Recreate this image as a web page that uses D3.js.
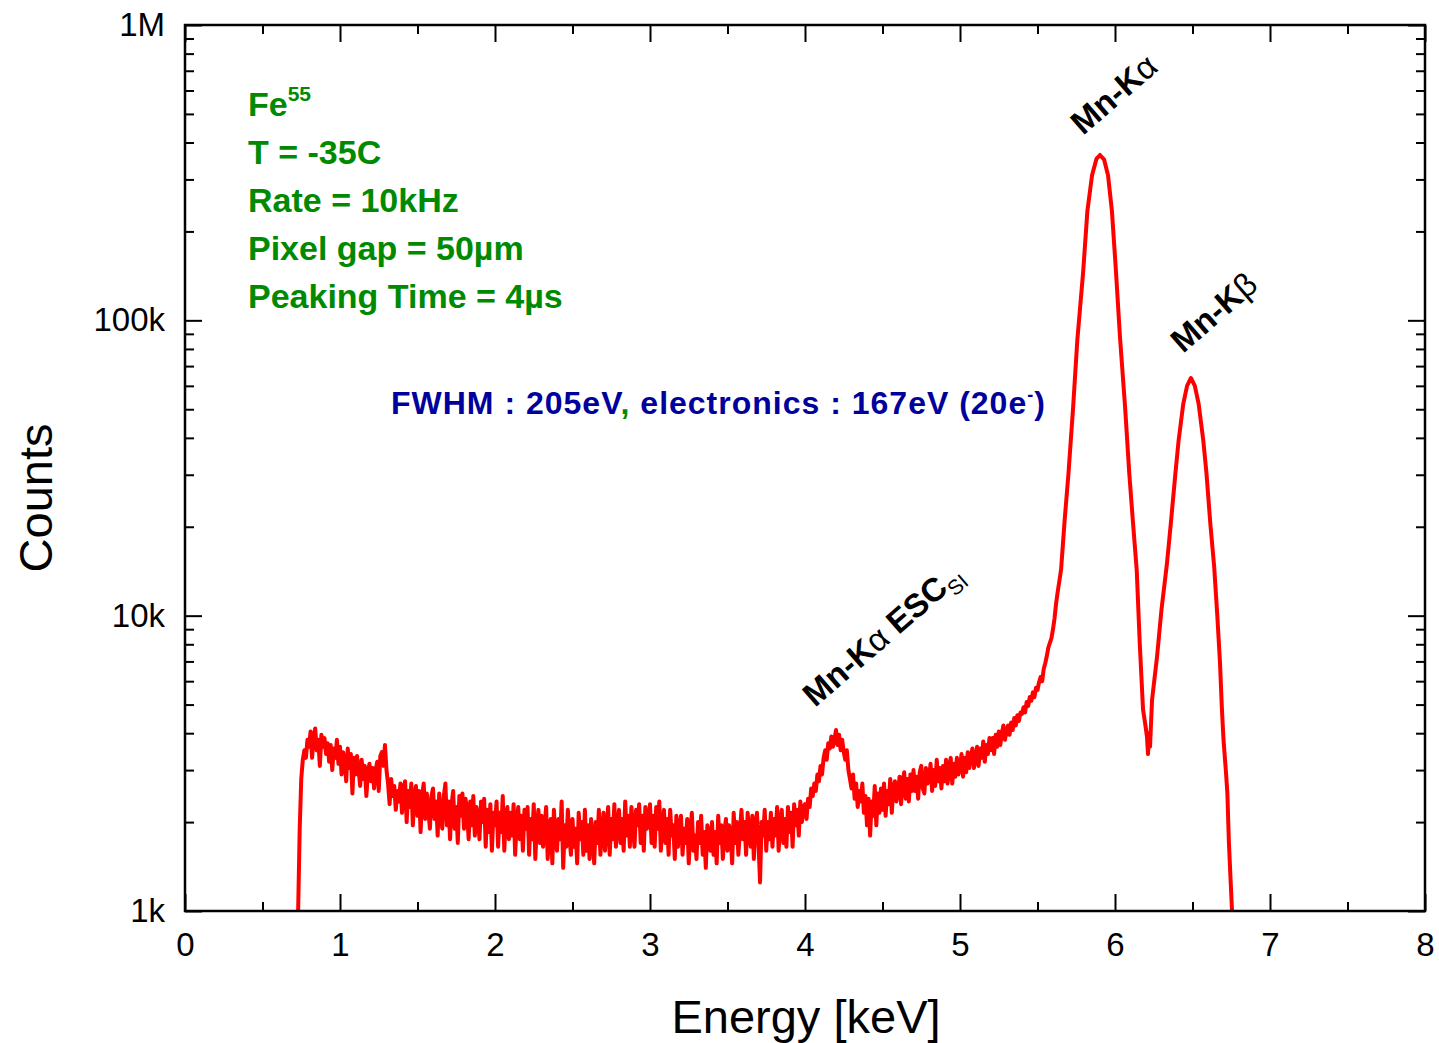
<!DOCTYPE html>
<html>
<head>
<meta charset="utf-8">
<script src="https://cdn.jsdelivr.net/npm/d3@7"></script>
<style>
  body { margin: 0; background: #fff; }
  svg { display: block; font-family: "Liberation Sans", Arial, sans-serif; }
</style>
</head>
<body>
<div id="chart"></div>
<script>
// background part of the spectrum, one channel every 10 eV starting at 0.73 keV
const bgStart = 0.73;
const bgStep = 0.01;
const bgCounts = [
  1000, 1900, 2800, 3250, 3500, 3300, 3800,
  3600, 4050, 3300, 3900, 4150, 3500, 3800, 3100, 3950, 3600,
  3850, 3400, 3700, 3200, 3650, 3000, 3550, 3300, 3800, 3150,
  3600, 2900, 3450, 3200, 2750, 3550, 3050, 3400, 2500, 3300,
  2900, 3350, 3000, 2650, 3250, 2800, 3100, 2450, 2950, 3150,
  2750, 3050, 2600, 3000, 3200, 2550, 3350, 3450, 3100, 3650,
  3000, 2700, 2300, 2800, 2450, 2650, 2200, 2550, 2350, 2700,
  2150, 2600, 2750, 2000, 2550, 2250, 2700, 1950, 2450, 2650,
  2100, 2550, 1850, 2450, 2700, 2050, 2500, 2200, 1900, 2450,
  2600, 2050, 2350, 1800, 2500, 2150, 1900, 2450, 2700, 1950,
  2350, 1750, 2300, 2550, 1900, 2250, 1700, 2450, 2100, 2500,
  1900, 2400, 2150, 1750, 2350, 1950, 2450, 1800, 2250, 2050,
  1750, 2350, 2000, 2400, 1650, 2200, 1850, 2300, 1600, 2150,
  1950, 2350, 1650, 2150, 1850, 2450, 1600, 2100, 2250, 1750,
  2150, 1800, 2300, 1550, 2000, 2250, 1750, 2100, 1600, 2200,
  1900, 2250, 1550, 2050, 1750, 2300, 1500, 1950, 2200, 1700,
  2100, 1650, 1950, 2250, 1500, 1900, 2050, 1450, 2200, 1800,
  1600, 2050, 1750, 2350, 1400, 1950, 1650, 2200, 1800, 1550,
  2050, 1650, 1900, 1450, 2150, 1750, 2000, 1550, 2200, 1600,
  1950, 1500, 2050, 1750, 1450, 2000, 1700, 2200, 1550, 1850,
  2150, 1600, 1900, 2250, 1550, 2050, 1750, 2300, 1650, 1950,
  2200, 1700, 2050, 1600, 2350, 1800, 2100, 1650, 2250, 1900,
  1650, 2200, 1950, 2300, 1700, 2100, 1600, 2250, 1900, 2050,
  2300, 1700, 2100, 1650, 2250, 1900, 2350, 1600, 1950, 2200,
  1700, 2050, 1550, 2200, 1800, 1950, 1500, 2100, 1650, 1900,
  2100, 1550, 1900, 1700, 2050, 1450, 1850, 2150, 1600, 1800,
  1500, 2000, 1700, 2100, 1550, 1850, 1400, 1950, 1800, 1600,
  2000, 1550, 1850, 1450, 2100, 1700, 1950, 1500, 1850, 2050,
  1600, 1950, 1800, 1450, 2150, 1700, 2000, 1550, 1850, 2200,
  1750, 2000, 1550, 2150, 1850, 1650, 2100, 1500, 1950, 2150,
  1700, 1250, 2000, 1800, 2200, 1600, 2000, 1750, 2150, 1650,
  2050, 1800, 2250, 1600, 2000, 2200, 1700, 2050, 1650, 2250,
  1850, 2150, 1650, 2300, 1950, 2200, 1800, 2350, 2000, 2250,
  2300, 2050, 2400, 2250, 2600, 2450, 2700, 2550, 2900, 2750,
  3100, 2900, 3300, 3500, 3250, 3700, 3550, 3900, 3600, 3800,
  4100, 3650, 3950, 3500, 3800, 3450, 3250, 3500, 3000, 2800,
  2600, 2900, 2400, 2700, 2250, 2550, 2350, 2700, 2150, 2450,
  1950, 2400, 1800, 2350, 2100, 2650, 1950, 2500, 2150, 2600,
  2200, 2700, 2100, 2550, 2300, 2800, 2150, 2600, 2750, 2350,
  2500, 2850, 2300, 2750, 2950, 2400, 2800, 2350, 2900, 2550,
  3000, 2550, 2850, 2400, 2950, 3100, 2600, 2500, 3050, 2700,
  2800, 3150, 2550, 3000, 2650, 3250, 2750, 3050, 2600, 3100,
  2750, 3250, 2700, 3050, 3300, 2700, 3150, 2850, 3300, 2900,
  3050, 3400, 2850, 3300, 2950, 3450, 3050, 3350, 3550, 3050,
  3250, 3600, 3100, 3550, 3300, 3750, 3200, 3650, 3400, 3850,
  3500, 3850, 3400, 3950, 3600, 4050, 3650, 4000, 4250, 3800,
  4050, 4250, 3950, 4350, 4100, 4500, 4250, 4600, 4400, 4700,
  4650, 4900, 4700, 5100, 4950, 5300, 5150, 5500, 5300, 5700,
  5600, 5950, 6200, 6000, 6600, 6900, 7300, 7800
];

// Mn-Ka / Mn-Kb peak region
const peakEnergies = [
  5.59, 5.60, 5.61, 5.62, 5.63, 5.64, 5.652, 5.675, 5.70, 5.73, 5.757, 5.794,
  5.822, 5.852, 5.88, 5.903, 5.93, 5.955, 5.98, 6.005, 6.032, 6.065, 6.092,
  6.115, 6.14, 6.16, 6.181, 6.195, 6.206, 6.213, 6.22, 6.226, 6.239, 6.271,
  6.30, 6.335, 6.36, 6.39, 6.41, 6.44, 6.465, 6.49, 6.515, 6.54, 6.57, 6.59,
  6.615, 6.64, 6.66, 6.677, 6.69, 6.70, 6.715, 6.725, 6.735, 6.745, 6.755
];
const peakCounts = [
  8400, 9000, 9800, 11000, 12000, 13000, 14300, 21000, 30400, 50900, 85800, 144700,
  235000, 310000, 352000, 363000, 350000, 310000, 235000, 150000, 88000, 50900, 30400,
  21000, 14300, 8000, 4800, 4300, 3900, 3400, 4000, 3600, 5180, 7250,
  10500, 15000, 20500, 30400, 39000, 52000, 60000, 63800, 60000, 52000, 39000, 30400,
  20500, 14600, 10000, 7000, 4800, 3800, 3000, 2500, 1700, 1300, 1000
];

const xTicks = [0, 1, 2, 3, 4, 5, 6, 7, 8];
const xMinorTicks = [0.5, 1.5, 2.5, 3.5, 4.5, 5.5, 6.5, 7.5];
const yTicks = [1000, 10000, 100000, 1000000];
const yTickLabels = ["1k", "10k", "100k", "1M"];
const yMinorTicks = [2, 3, 4, 5, 6, 7, 8, 9].flatMap(m => [1e3, 1e4, 1e5].map(d => m * d));

const infoLines = ["T = -35C", "Rate = 10kHz", "Pixel gap = 50\u00b5m", "Peaking Time = 4\u00b5s"];

const width = 1439, height = 1043;
const margins = { top: 25, right: 14, bottom: 132, left: 185 };

const svg = d3.select("#chart").append("svg")
  .attr("width", width)
  .attr("height", height);

const x = d3.scaleLinear().domain([0, 8]).range([margins.left, width - margins.right]);
const y = d3.scaleLog().domain([1000, 1000000]).range([height - margins.bottom, margins.top]);

const data = bgCounts.map((c, i) => ({ e: bgStart + i * bgStep, c: c }))
  .concat(peakEnergies.map((e, i) => ({ e: e, c: peakCounts[i] })));

// spectrum
svg.append("path")
  .datum(data)
  .attr("fill", "none")
  .attr("stroke", "#ff0000")
  .attr("stroke-width", 4)
  .attr("stroke-linejoin", "round")
  .attr("d", d3.line().x(d => x(d.e)).y(d => y(Math.max(d.c, 1000))));

// axes, ticks point inward on all four sides
const x0 = margins.left, x1 = width - margins.right;
const y0 = height - margins.bottom, y1 = margins.top;

function styleAxis(g) {
  g.select(".domain").remove();
  g.selectAll("line").attr("stroke", "#000").attr("stroke-width", 2);
  g.selectAll("text").attr("font-size", 33).attr("fill", "#000")
    .attr("font-family", "Liberation Sans, Arial, sans-serif");
}

svg.append("g").attr("transform", `translate(0,${y0})`)
  .call(d3.axisBottom(x).tickValues(xTicks).tickSize(-17).tickPadding(22).tickFormat(d3.format("d")))
  .call(styleAxis);
svg.append("g").attr("transform", `translate(0,${y0})`)
  .call(d3.axisBottom(x).tickValues(xMinorTicks).tickSize(-9).tickFormat(""))
  .call(styleAxis);
svg.append("g").attr("transform", `translate(0,${y1})`)
  .call(d3.axisTop(x).tickValues(xTicks).tickSize(-17).tickFormat(""))
  .call(styleAxis);
svg.append("g").attr("transform", `translate(0,${y1})`)
  .call(d3.axisTop(x).tickValues(xMinorTicks).tickSize(-9).tickFormat(""))
  .call(styleAxis);

svg.append("g").attr("transform", `translate(${x0},0)`)
  .call(d3.axisLeft(y).tickValues(yTicks).tickSize(-17).tickPadding(20)
    .tickFormat((d, i) => yTickLabels[i]))
  .call(styleAxis);
svg.append("g").attr("transform", `translate(${x0},0)`)
  .call(d3.axisLeft(y).tickValues(yMinorTicks).tickSize(-9).tickFormat(""))
  .call(styleAxis);
svg.append("g").attr("transform", `translate(${x1},0)`)
  .call(d3.axisRight(y).tickValues(yTicks).tickSize(-17).tickFormat(""))
  .call(styleAxis);
svg.append("g").attr("transform", `translate(${x1},0)`)
  .call(d3.axisRight(y).tickValues(yMinorTicks).tickSize(-9).tickFormat(""))
  .call(styleAxis);

// frame
svg.append("rect")
  .attr("x", x0).attr("y", y1)
  .attr("width", x1 - x0).attr("height", y0 - y1)
  .attr("fill", "none").attr("stroke", "#000").attr("stroke-width", 2.5);

// axis titles
svg.append("text")
  .attr("x", (x0 + x1) / 2 + 1).attr("y", 1033)
  .attr("text-anchor", "middle").attr("font-size", 47)
  .text("Energy [keV]");
svg.append("text")
  .attr("transform", "translate(52,498) rotate(-90)")
  .attr("text-anchor", "middle").attr("font-size", 47)
  .text("Counts");

// green info block
const green = "#008a00";
const fe = svg.append("text")
  .attr("x", 248).attr("y", 116)
  .attr("font-size", 34).attr("font-weight", "bold").attr("fill", green);
fe.append("tspan").text("Fe");
fe.append("tspan").attr("dy", -15).attr("font-size", 21).text("55");

svg.selectAll("text.info")
  .data(infoLines)
  .join("text")
  .attr("class", "info")
  .attr("x", 248)
  .attr("y", (d, i) => 164 + i * 48)
  .attr("font-size", 34).attr("font-weight", "bold").attr("fill", green)
  .text(d => d);

// FWHM line
const blue = "#00009c";
const fw = svg.append("text")
  .attr("x", 391).attr("y", 414)
  .attr("font-size", 32).attr("font-weight", "bold")
  .attr("letter-spacing", 1.0)
  .style("white-space", "pre");
fw.append("tspan").attr("fill", blue).text("FWHM : 205eV");
fw.append("tspan").attr("fill", green).text(",");
fw.append("tspan").attr("fill", blue).text(" electronics : 167eV (20e");
fw.append("tspan").attr("fill", blue).attr("dy", -13).attr("font-size", 18).text("-");
fw.append("tspan").attr("fill", blue).attr("dy", 13).text(")");

// peak labels
function peakLabel(px, py, parts) {
  const t = svg.append("text")
    .attr("transform", `translate(${px},${py}) rotate(-41)`)
    .attr("font-size", 33).attr("font-weight", "bold").attr("fill", "#000")
    .style("white-space", "pre");
  parts.forEach(p => {
    const s = t.append("tspan").text(p.t);
    if (p.normal) s.attr("font-weight", "normal");
    if (p.size) s.attr("font-size", p.size);
    if (p.dy) s.attr("dy", p.dy);
  });
}
peakLabel(1083, 136, [{ t: "Mn-K" }, { t: "\u03b1", normal: true }]);
peakLabel(1183, 354, [{ t: "Mn-K" }, { t: "\u03b2", normal: true }]);
peakLabel(815, 708, [{ t: "Mn-K" }, { t: "\u03b1", normal: true }, { t: " ESC" }, { t: "SI", size: 21, dy: 8, normal: true }]);
</script>
</body>
</html>
